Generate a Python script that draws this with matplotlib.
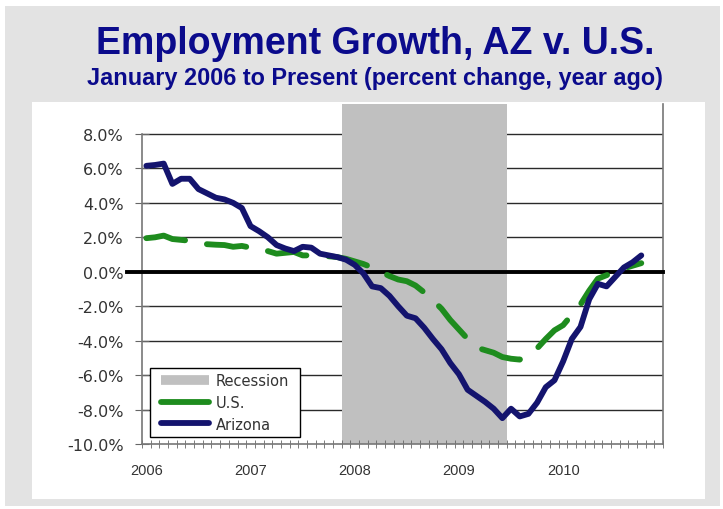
import matplotlib
matplotlib.use("Agg")
import matplotlib.pyplot as plt
from matplotlib.patches import Rectangle
from matplotlib.lines import Line2D

plt.rcParams['font.family'] = ['Liberation Sans', 'DejaVu Sans']

# ---------------------------------------------------
# Datos (variacion % anual, mensual desde enero 2006)
# ---------------------------------------------------
arizona = [6.15, 6.2, 6.28, 5.1, 5.4, 5.4, 4.8, 4.55, 4.3, 4.2, 4.0, 3.7,
           2.65, 2.35, 2.0, 1.55, 1.35, 1.2, 1.45, 1.4, 1.05, 0.95, 0.85, 0.7,
           0.4, -0.1, -0.85, -0.95, -1.4, -2.0, -2.55, -2.7, -3.25, -3.9, -4.5, -5.3,
           -5.95, -6.85, -7.2, -7.55, -7.95, -8.5, -7.95, -8.4, -8.25, -7.6, -6.7, -6.3,
           -5.2, -3.9, -3.2, -1.6, -0.7, -0.85, -0.3, 0.25, 0.55, 0.95]
us = [1.95, 2.0, 2.1, 1.9, 1.85, 1.8, 1.7, 1.6, 1.57, 1.55, 1.45, 1.5,
      1.4, 1.25, 1.2, 1.05, 1.1, 1.15, 0.95, 0.95, 0.9, 0.9, 0.85, 0.75,
      0.6, 0.45, 0.25, 0.0, -0.25, -0.45, -0.55, -0.8, -1.2, -1.65, -2.15, -2.8,
      -3.35, -3.9, -4.4, -4.55, -4.7, -4.95, -5.05, -5.1, -4.8, -4.45, -3.9, -3.4,
      -3.1, -2.5, -1.9, -1.1, -0.4, -0.2, 0.0, 0.2, 0.35, 0.5]
years = ['2006', '2007', '2008', '2009', '2010']
n_months = 60
recession = (23, 41)   # dic 2007 - jun 2009 (indice de mes)
yticks = [-10, -8, -6, -4, -2, 0, 2, 4, 6, 8]

navy = '#14146E'
green = '#1E8C1E'
gray_rec = '#C0C0C0'
title_col = '#0B0B8C'

# ---------------------------------------------------
# Figura y fondo
# ---------------------------------------------------
W, H = 723, 510
fig = plt.figure(figsize=(W / 100, H / 100), dpi=100, facecolor='white')
fig.patches.append(Rectangle((5 / W, 3 / H), 715 / W, 500 / H, transform=fig.transFigure,
                             facecolor='#E3E3E3', edgecolor='none', zorder=0))
fig.patches.append(Rectangle((32 / W, 10 / H), 673 / W, 397 / H, transform=fig.transFigure,
                             facecolor='white', edgecolor='none', zorder=0))

fig.text(375 / W, 1 - 44 / H, "Employment Growth, AZ v. U.S.", ha='center', va='center',
         fontsize=27, fontweight='bold', color=title_col)
fig.text(375 / W, 1 - 79 / H, "January 2006 to Present (percent change, year ago)",
         ha='center', va='center', fontsize=16.9, fontweight='bold', color=title_col)

ax = fig.add_axes([142 / W, 1 - 445 / H, 521 / W, 340 / H])
ax.set_zorder(5)
ax.set_facecolor('white')

x = list(range(len(arizona)))
# la sombra de recesion tapa las lineas de cuadricula
for t in yticks[1:]:
    if t != 0:
        ax.axhline(t, color='#2A2A2A', lw=1.0, zorder=0.5)
ax.axvspan(recession[0] - 0.5, recession[1] + 0.5, color=gray_rec, lw=0, zorder=1)
# linea de cero gruesa, sale un poco a la izquierda del eje
ax.axhline(0, xmin=-15 / 521, xmax=1, color='black', lw=2.8, zorder=3, clip_on=False)

ax.plot(x, us, color=green, lw=4.2, dashes=(6.8, 3.8), dash_capstyle='round',
        solid_capstyle='round', zorder=4)
ax.plot(x, arizona, color=navy, lw=4.2, solid_joinstyle='round', solid_capstyle='round',
        zorder=5)

ax.set_xlim(-0.5, n_months - 0.5)
ax.set_ylim(-10, 9.74)
ax.set_yticks(yticks)
ax.set_yticklabels([f"{t:.1f}%" for t in yticks], fontsize=11.5, color='#333333',
                   family='DejaVu Sans')
ax.set_xticks([12 * i for i in range(len(years))])
ax.set_xticklabels(years, fontsize=10.5, color='#333333')
ax.set_xticks([i - 0.5 for i in range(n_months + 1)], minor=True)
ax.tick_params(axis='x', which='major', length=0, pad=14)
ax.tick_params(axis='x', which='minor', direction='inout', length=6, color='#666666')
ax.tick_params(axis='y', direction='inout', length=10, color='#666666', pad=8)

for s in ['left', 'bottom', 'right']:
    ax.spines[s].set_color('#777777')
    ax.spines[s].set_linewidth(1.2)
ax.spines['left'].set_bounds(-10, 8)
ax.spines['top'].set_visible(False)

# leyenda: marco propio para controlar el tamano de la caja
fig.patches.append(Rectangle((150 / W, 1 - 438 / H), 150 / W, 69 / H,
                             transform=fig.transFigure, facecolor='white',
                             edgecolor='black', lw=1.0, zorder=10))
handles = [Line2D([], [], color=gray_rec, lw=7, solid_capstyle='butt'),
           Line2D([], [], color=green, lw=4.2, solid_capstyle='round'),
           Line2D([], [], color=navy, lw=4.2, solid_capstyle='round')]
leg = fig.legend(handles, ['Recession', 'U.S.', 'Arizona'], loc='center left',
                 bbox_to_anchor=(161 / W, 1 - 403.5 / H),
                 prop={'family': 'DejaVu Sans', 'size': 10.5}, frameon=False,
                 handlelength=3.3, handletextpad=0.45, borderpad=0.0, labelspacing=0.45,
                 borderaxespad=0)
leg.set_zorder(11)
for t in leg.get_texts():
    t.set_color('#333333')

fig.savefig("out.png", dpi=100, facecolor=fig.get_facecolor())
